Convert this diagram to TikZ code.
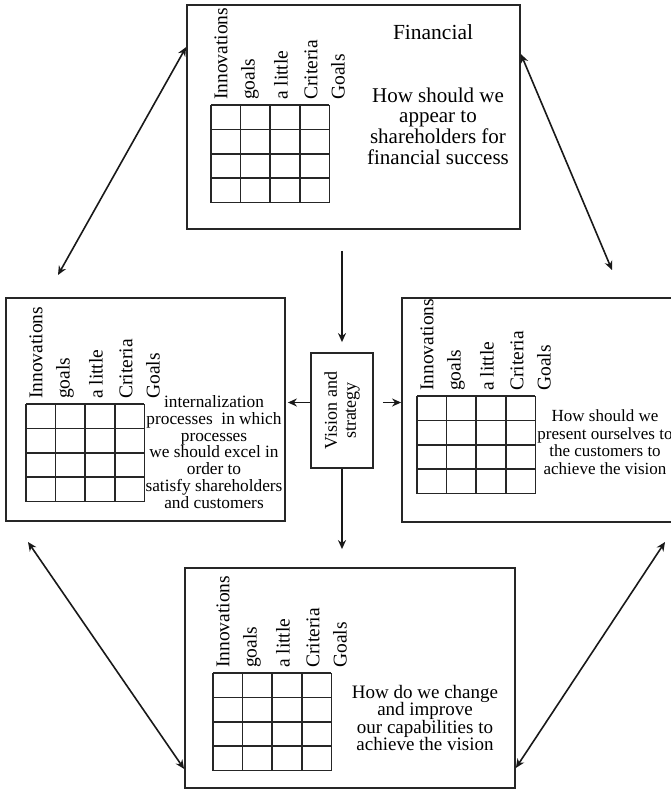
\documentclass[tikz,border=0pt]{standalone}
\usepackage{fontspec}
\setmainfont{Liberation Serif}
\usetikzlibrary{positioning,arrows.meta}

\begin{document}
\begin{tikzpicture}[
    x=1pt, y=-1pt,
    panel/.style={draw=black!85, line width=1.8pt, inner sep=0pt},
    cell/.style={draw=black!85, line width=1.5pt},
    colhead/.style={rotate=90, anchor=west, inner sep=0pt,
                    font=\fontsize{19.5}{19.5}\selectfont},
    question/.style={align=center, inner sep=0pt},
    flow/.style={->, line width=1.7pt, >={Stealth[length=9pt,width=8pt]}, black!90},
    link/.style={<->, line width=1.6pt, >={Stealth[length=9pt,width=8pt]}, black!90},
  ]
    \useasboundingbox (0,0) rectangle (671,790);

    % perspective boxes
    \node[panel, minimum width=333pt, minimum height=224pt] (fin)   at (353.5,117)   {};
    \node[panel, minimum width=279pt, minimum height=223pt] (proc)  at (145.5,409.5) {};
    \node[panel, minimum width=277pt, minimum height=224pt] (cust)  at (540.5,410)   {};
    \node[panel, minimum width=330pt, minimum height=220pt] (learn) at (350,678)     {};
    \node[panel, minimum width=62pt, minimum height=115pt]  (vis)   at (342,410.5)   {};
    \node[rotate=90, align=center, inner sep=0pt,
          font=\fontsize{18}{19}\selectfont] (vistxt) at (vis) {Vision and\\strategy};

    % score grids with column heads
    \foreach \gx/\gy [count=\k] in {211/105, 26/404, 417/396, 213/673} {
      \foreach \i in {0,...,4}
        \draw[cell] (\gx+29.6*\i,\gy) -- ++(0,97.6);
      \foreach \j in {0,...,4}
        \draw[cell] (\gx,\gy+24.4*\j) -- ++(118.4,0);
      \foreach \hx/\txt [count=\m] in {10/Innovations, 39/goals, 70/a little, 100/Criteria, 127/Goals}
        \node[colhead] (h\k-\m) at (\gx+\hx,\gy-5) {\txt};
    }

    % box texts
    \node[font=\fontsize{21.5}{21}\selectfont] (fintitle) at (433,32) {Financial};
    \node[question, font=\fontsize{21}{20.7}\selectfont] (finq) at (438,126)
      {How should we\\appear to\\shareholders for\\financial success};
    \node[question, font=\fontsize{17.3}{16.7}\selectfont] (procq) at (214,452)
      {internalization\\processes\ \ in which\\processes\\we should excel in\\order to\\satisfy shareholders\\and customers};
    \node[question, font=\fontsize{17}{17.5}\selectfont] (custq) at (605,442)
      {How should we\\present ourselves to\\the customers to\\achieve the vision};
    \node[question, font=\fontsize{19}{17.5}\selectfont] (learnq) at (425,718)
      {How do we change\\and improve\\our capabilities to\\achieve the vision};

    % arrows round the vision box
    \draw[flow, shorten <=21pt, shorten >=10pt] (fin.south -| vis.north) -- (vis.north);
    \draw[flow, shorten >=2pt] ([yshift=8pt]vis.west) -- ([yshift=8pt]vis.west -| proc.east);
    \draw[flow, shorten <=9pt] ([yshift=8pt]vis.east) -- ([yshift=8pt]vis.east -| cust.west);
    \draw[flow, shorten >=18pt] (vis.south) -- (vis.south |- learn.north);

    % links between perspectives
    \coordinate (tl) at (58,275);
    \coordinate (tr) at (612,270);
    \coordinate (bl) at (28,542);
    \coordinate (br) at (665,542);
    \draw[link] ([yshift=-43pt]fin.north west) -- (tl);
    \draw[link] ([yshift=-50pt]fin.north east) -- (tr);
    \draw[link] (bl) -- ([yshift=20pt]learn.south west);
    \draw[link] (br) -- ([yshift=21pt]learn.south east);
\end{tikzpicture}
\end{document}
